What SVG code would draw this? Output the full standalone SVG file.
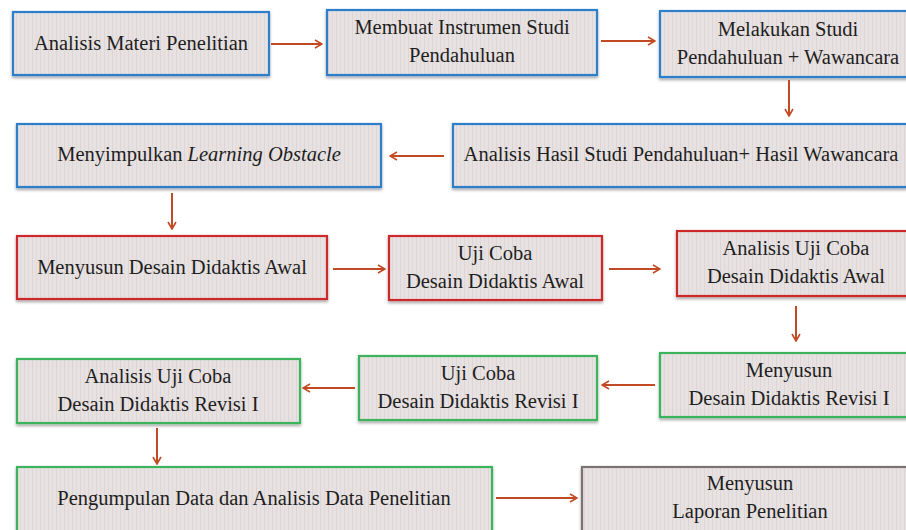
<svg xmlns="http://www.w3.org/2000/svg" width="906" height="530" viewBox="0 0 906 530" font-family="'Liberation Serif', 'Times New Roman', Times, 'DejaVu Serif', 'Noto Serif', serif">
<style>
.box{fill:url(#stripes);stroke-width:2.2;filter:url(#sh)}
.blue{stroke:#2d7fc9}
.red{stroke:#cc2a2a}
.green{stroke:#3db35b}
.gray{stroke:#7b7272}
text{font-size:20.5px;fill:#1e1e1e;text-anchor:middle}
.conn line{stroke:#c24a22;stroke-width:2;marker-end:url(#ah)}
</style>
<defs>
<pattern id="stripes" width="8" height="10" patternUnits="userSpaceOnUse">
<rect width="8" height="10" fill="#e7e1e1"/>
<rect x="0" width="1" height="10" fill="#ddd6d6"/>
<rect x="4" width="1" height="10" fill="#e2dbdb"/>
</pattern>
<filter id="sh" x="-5%" y="-10%" width="110%" height="130%">
<feDropShadow dx="0" dy="2" stdDeviation="1.5" flood-color="#000" flood-opacity="0.35"/>
</filter>
<marker id="ah" viewBox="0 0 10 10" refX="9" refY="5" markerWidth="5" markerHeight="5" orient="auto" markerUnits="strokeWidth">
<polyline points="2,1 9,5 2,9" fill="none" stroke="#c24a22" stroke-width="1.6"/>
</marker>
</defs>

<g id="n1"><rect class="box blue" x="13" y="12" width="256" height="63"/><text x="141" y="50">Analisis Materi Penelitian</text></g>
<g id="n2"><rect class="box blue" x="327" y="10" width="270" height="65"/><text x="462" y="34">Membuat Instrumen Studi</text><text x="462" y="62">Pendahuluan</text></g>
<g id="n3"><rect class="box blue" x="660" y="11" width="250" height="66"/><text x="788" y="36">Melakukan Studi</text><text x="788" y="64">Pendahuluan + Wawancara</text></g>

<g id="n4"><rect class="box blue" x="17" y="124" width="364" height="63"/><text x="199" y="161">Menyimpulkan <tspan font-style="italic">Learning Obstacle</tspan></text></g>
<g id="n5"><rect class="box blue" x="453" y="124" width="457" height="63"/><text x="681" y="161">Analisis Hasil Studi Pendahuluan+ Hasil Wawancara</text></g>

<g id="n6"><rect class="box red" x="17" y="236" width="310" height="63"/><text x="172" y="274">Menyusun Desain Didaktis Awal</text></g>
<g id="n7"><rect class="box red" x="389" y="236" width="213" height="64"/><text x="495" y="260">Uji Coba</text><text x="495" y="288">Desain Didaktis Awal</text></g>
<g id="n8"><rect class="box red" x="677" y="231" width="233" height="65"/><text x="796" y="255">Analisis Uji Coba</text><text x="796" y="283">Desain Didaktis Awal</text></g>

<g id="n9"><rect class="box green" x="660" y="353" width="250" height="64"/><text x="789" y="377">Menyusun</text><text x="789" y="405">Desain Didaktis Revisi I</text></g>
<g id="n10"><rect class="box green" x="359" y="356" width="238" height="64"/><text x="478" y="380">Uji Coba</text><text x="478" y="408">Desain Didaktis Revisi I</text></g>
<g id="n11"><rect class="box green" x="17" y="359" width="283" height="64"/><text x="158" y="383">Analisis Uji Coba</text><text x="158" y="411">Desain Didaktis Revisi I</text></g>

<g id="n12"><rect class="box green" x="17" y="467" width="475" height="70"/><text x="254" y="505">Pengumpulan Data dan Analisis Data Penelitian</text></g>
<g id="n13"><rect class="box gray" x="582" y="467" width="330" height="70"/><text x="750" y="490">Menyusun</text><text x="750" y="518">Laporan Penelitian</text></g>

<g id="connectors" class="conn">
<line x1="271" y1="44" x2="322" y2="44"/>
<line x1="601" y1="41" x2="655" y2="41"/>
<line x1="789" y1="80" x2="789" y2="116"/>
<line x1="444" y1="156" x2="390" y2="156"/>
<line x1="172" y1="193" x2="172" y2="229"/>
<line x1="333" y1="269" x2="385" y2="269"/>
<line x1="609" y1="269" x2="660" y2="269"/>
<line x1="796" y1="306" x2="796" y2="341"/>
<line x1="655" y1="385" x2="602" y2="385"/>
<line x1="355" y1="388" x2="303" y2="388"/>
<line x1="157" y1="428" x2="157" y2="464"/>
<line x1="496" y1="498" x2="577" y2="498"/>
</g>
</svg>
